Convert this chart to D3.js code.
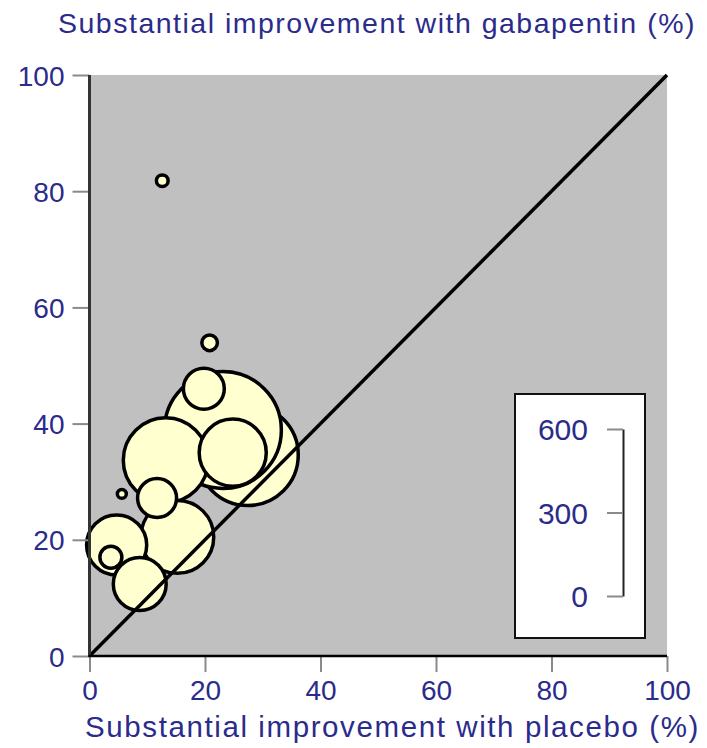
<!DOCTYPE html>
<html>
<head>
<meta charset="utf-8">
<script src="https://cdn.jsdelivr.net/npm/d3@7"></script>
<style>
  body { margin: 0; background: #fff; }
  svg text { font-family: "Liberation Sans", Arial, Helvetica, sans-serif; fill: #2b2b8c; }
</style>
</head>
<body>
<svg id="chart" width="707" height="748"></svg>
<script>
// Trials: response with placebo (%), response with gabapentin (%), number of patients
const placebo    = [27.4, 23.1, 13.2, 15.2, 24.8, 4.7, 8.7, 19.8, 11.7, 3.7, 20.8, 12.6, 5.6];
const gabapentin = [34.6, 38.9, 33.7, 20.5, 35.0, 19.1, 12.4, 46.0, 27.2, 17.0, 53.9, 81.8, 27.9];
const patients   = [363, 420, 305, 262, 241, 216, 190, 147, 140, 79, 56, 42, 32];

const axisTicks = [0, 20, 40, 60, 80, 100];
const sizeTicks = [0, 300, 600];
const sizeMax = 600;

const titleY = "Substantial improvement with gabapentin (%)";
const titleX = "Substantial improvement with placebo (%)";

const svg = d3.select("#chart");

const x = d3.scaleLinear().domain([0, 100]).range([89.5, 667]);
const y = d3.scaleLinear().domain([0, 100]).range([656, 75]);

// bubble diameter follows the legend bracket: 600 patients = bracket length
const legendScale = d3.scaleLinear().domain([0, sizeMax]).range([596, 429]);
const diam = d3.scaleLinear().domain([0, sizeMax]).range([0, legendScale(0) - legendScale(sizeMax)]);

// plot background
svg.append("rect")
  .attr("x", x(0)).attr("y", y(100))
  .attr("width", x(100) - x(0)).attr("height", y(0) - y(100))
  .attr("fill", "#c0c0c0");

// bubbles
const trials = placebo.map((p, i) => ({ p, g: gabapentin[i], n: patients[i] }));
svg.append("g").selectAll("circle")
  .data(trials)
  .join("circle")
  .attr("cx", d => x(d.p))
  .attr("cy", d => y(d.g))
  .attr("r", d => diam(d.n) / 2)
  .attr("fill", "#ffffcf")
  .attr("stroke", "#000")
  .attr("stroke-width", 3.5);

// line of equality
svg.append("line")
  .attr("x1", x(0)).attr("y1", y(0))
  .attr("x2", x(100)).attr("y2", y(100))
  .attr("stroke", "#000").attr("stroke-width", 3.5);

// axes
const yAxis = svg.append("g")
  .attr("transform", `translate(${x(0)},0)`)
  .call(d3.axisLeft(y).tickValues(axisTicks).tickSize(17).tickPadding(8).tickSizeOuter(0));
const xAxis = svg.append("g")
  .attr("transform", `translate(0,${y(0)})`)
  .call(d3.axisBottom(x).tickValues(axisTicks).tickSize(16).tickPadding(8).tickSizeOuter(0));

[yAxis, xAxis].forEach(g => {
  g.select(".domain").remove();
  g.selectAll(".tick line").attr("stroke", "#8a8a8a").attr("stroke-width", 2);
  g.selectAll(".tick text").attr("font-size", 28).style("fill", "#2b2b8c");
});
yAxis.selectAll(".tick text").attr("dy", "0.36em");

svg.append("line")
  .attr("x1", x(0)).attr("y1", y(100)).attr("x2", x(0)).attr("y2", y(0) + 1)
  .attr("stroke", "#333").attr("stroke-width", 3);
svg.append("line")
  .attr("x1", x(0) - 1).attr("y1", y(0)).attr("x2", x(100)).attr("y2", y(0))
  .attr("stroke", "#000").attr("stroke-width", 2.5);

// size legend
svg.append("rect")
  .attr("x", 515).attr("y", 394).attr("width", 130).attr("height", 244)
  .attr("fill", "#fff").attr("stroke", "#111").attr("stroke-width", 2);
const legendAxis = svg.append("g")
  .attr("transform", "translate(623,0)")
  .call(d3.axisLeft(legendScale).tickValues(sizeTicks).tickSize(16).tickPadding(19).tickSizeOuter(0));
legendAxis.select(".domain").attr("stroke", "#222").attr("stroke-width", 2);
legendAxis.selectAll(".tick line").attr("stroke", "#8a8a8a").attr("stroke-width", 2);
legendAxis.selectAll(".tick text").attr("font-size", 30).attr("dy", "0.36em").style("fill", "#2b2b8c");

// titles
svg.append("text")
  .attr("x", 58).attr("y", 33)
  .attr("font-size", 28.5).attr("letter-spacing", 1.5)
  .text(titleY);
svg.append("text")
  .attr("x", 85).attr("y", 737)
  .attr("font-size", 29.5).attr("letter-spacing", 1.6)
  .text(titleX);
</script>
</body>
</html>
